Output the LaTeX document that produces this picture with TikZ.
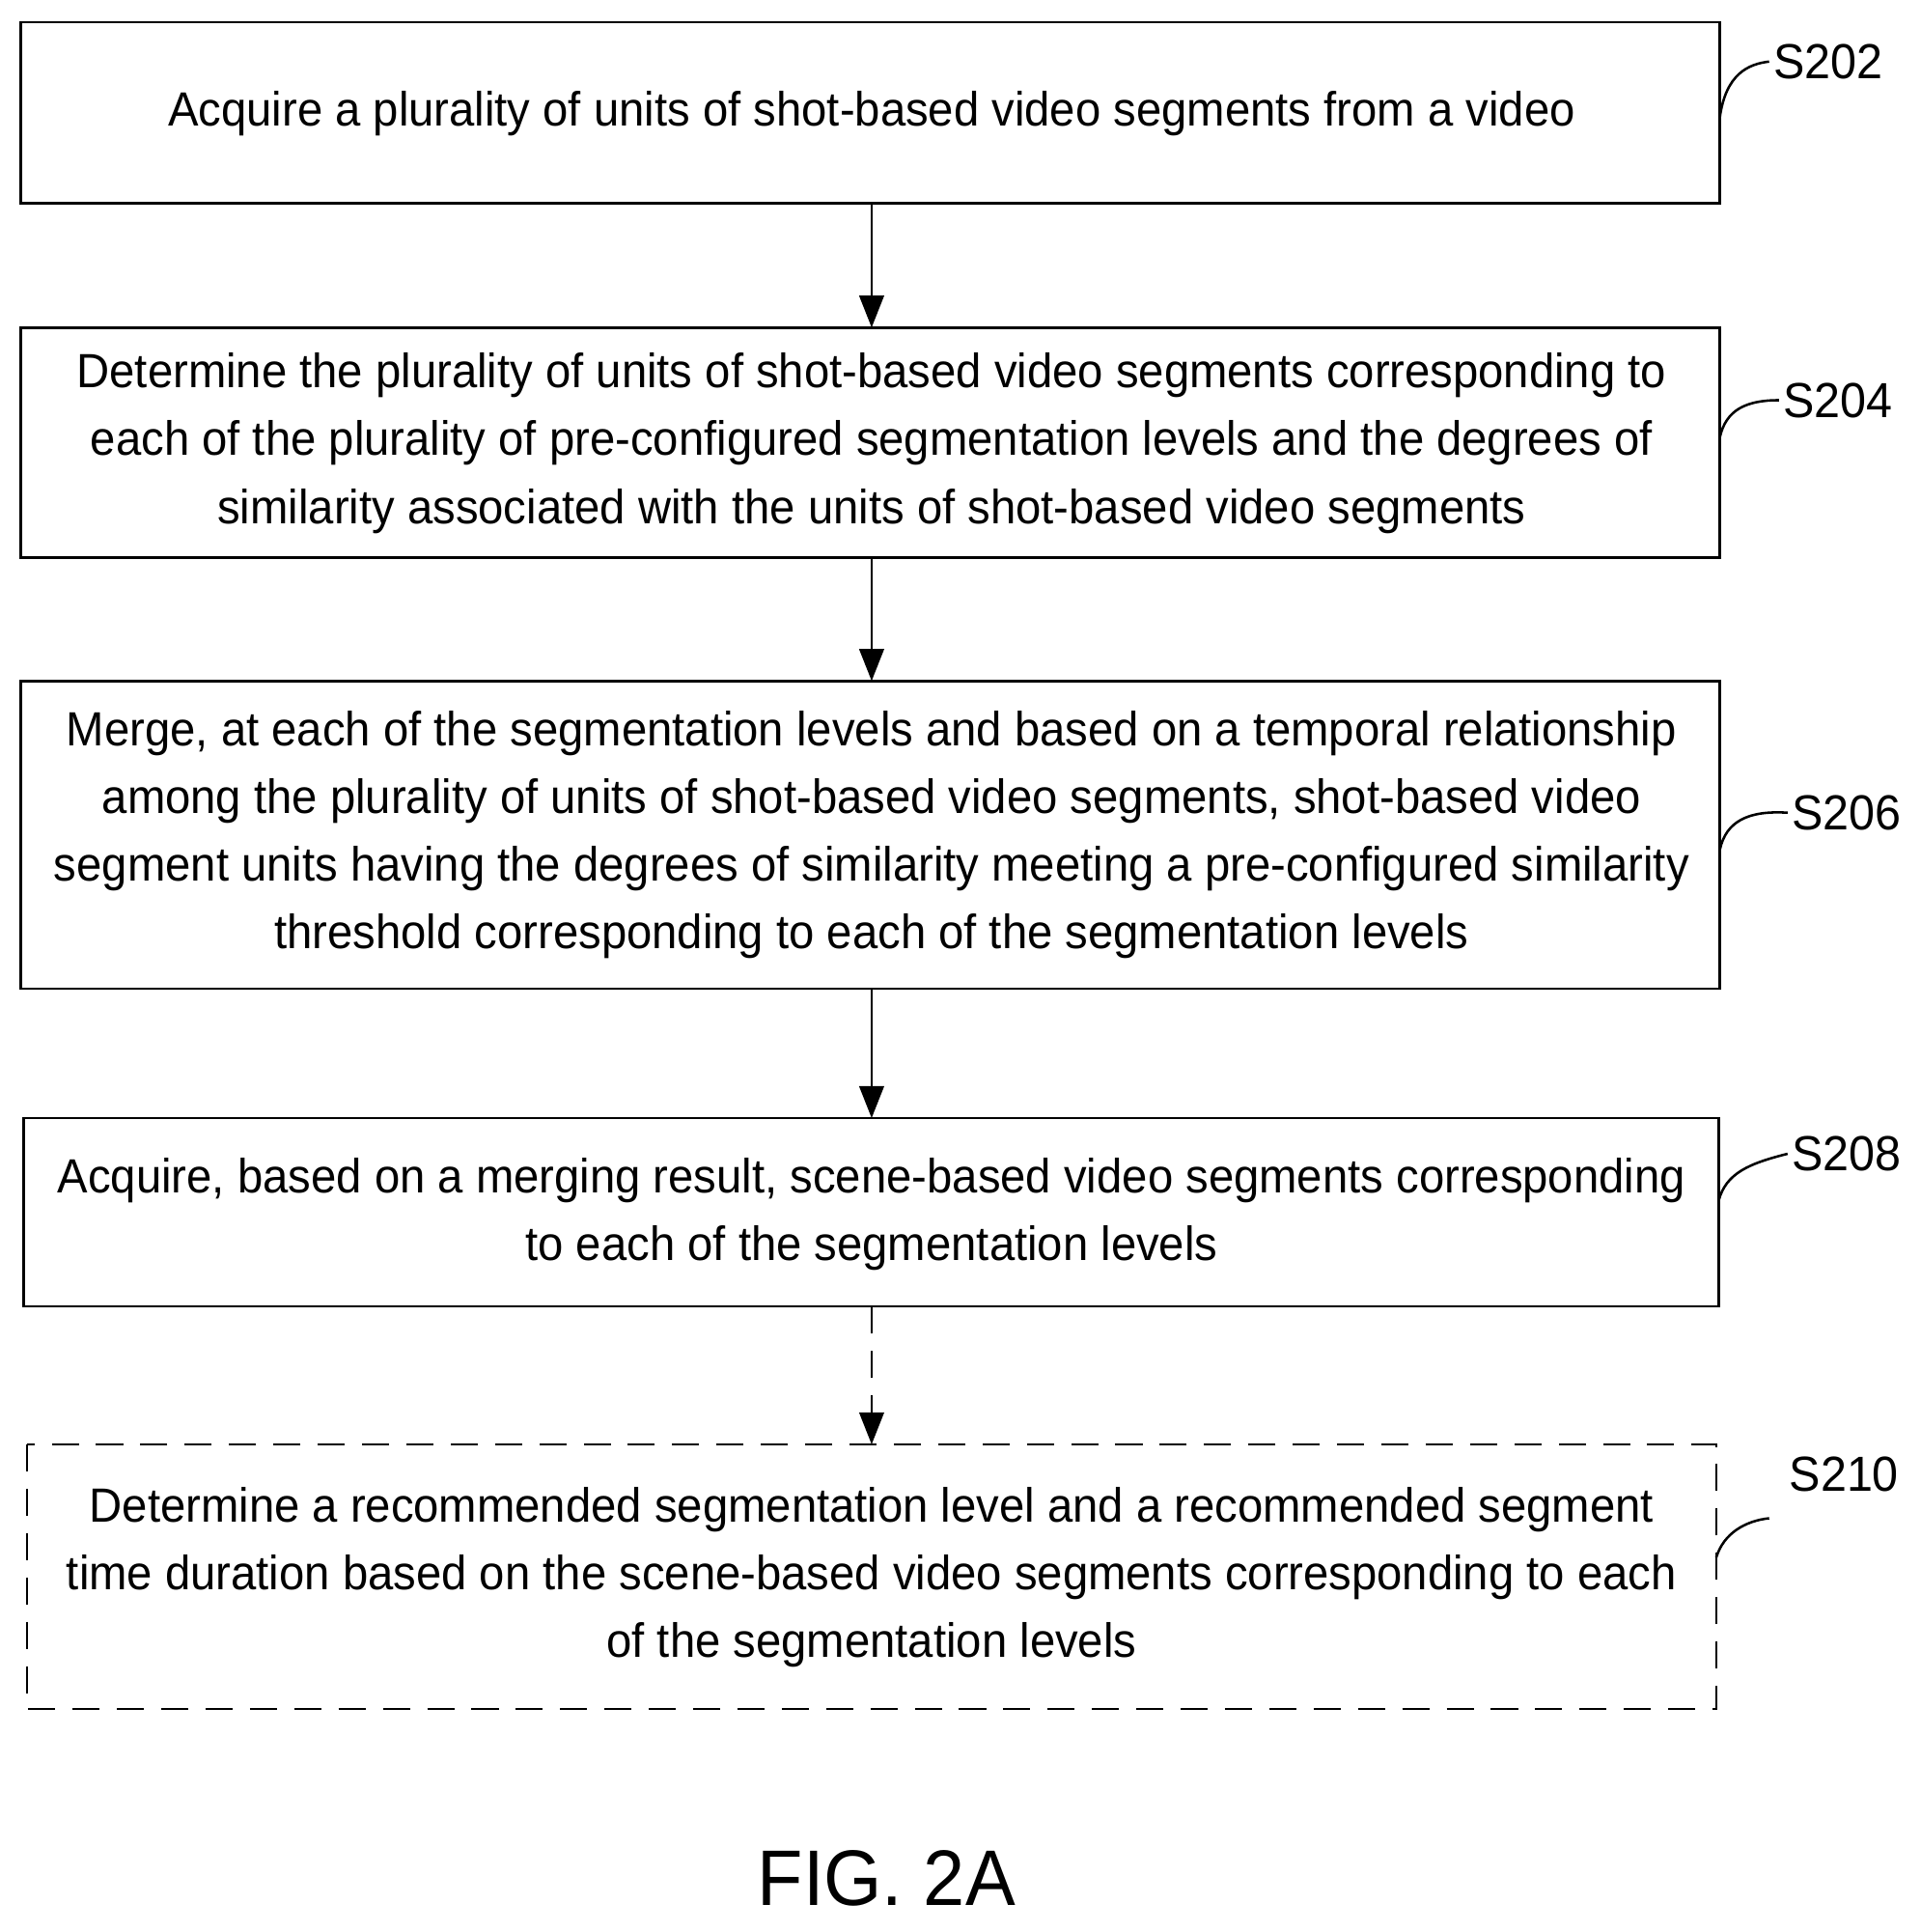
\documentclass[tikz,border=0pt]{standalone}
\usepackage{fontspec}
\setmainfont{Liberation Sans}[FakeStretch=0.95]
\usetikzlibrary{arrows.meta}
\begin{document}
\begin{tikzpicture}[x=1pt,y=-1pt,
  box/.style={draw,line width=2pt},
  txt/.style={align=center,font=\fontsize{39}{55}\selectfont},
  lab/.style={font=\fontsize{40}{46}\selectfont,anchor=west},
  arr/.style={line width=2pt,-{Triangle[length=26pt,width=20pt]}},
  lead/.style={line width=2pt}]
\useasboundingbox (0,0) rectangle (1560,1569);
\draw[box] (17,18) rectangle (1397,165);
\draw[box] (17,266) rectangle (1397,453);
\draw[box] (17,553) rectangle (1397,803);
\draw[box] (19,908) rectangle (1396,1061);
\draw[box,dash pattern=on 22pt off 14pt] (22,1173) rectangle (1394,1388);
\node[txt] (t1) at (708,92) {Acquire a plurality of units of shot-based video segments from a video};
\node[txt] (t2) at (708,360) {Determine the plurality of units of shot-based video segments corresponding to\\each of the plurality of pre-configured segmentation levels and the degrees of\\similarity associated with the units of shot-based video segments};
\node[txt] (t3) at (708,678) {Merge, at each of the segmentation levels and based on a temporal relationship\\among the plurality of units of shot-based video segments, shot-based video\\segment units having the degrees of similarity meeting a pre-configured similarity\\threshold corresponding to each of the segmentation levels};
\node[txt] (t4) at (708,986) {Acquire, based on a merging result, scene-based video segments corresponding\\to each of the segmentation levels};
\node[txt] (t5) at (708,1281) {Determine a recommended segmentation level and a recommended segment\\time duration based on the scene-based video segments corresponding to each\\of the segmentation levels};
\coordinate (a1) at (708,165); \coordinate (b1) at (708,266);
\coordinate (a2) at (708,453); \coordinate (b2) at (708,553);
\coordinate (a3) at (708,803); \coordinate (b3) at (708,908);
\coordinate (a4) at (708,1061); \coordinate (b4) at (708,1173);
\draw[arr] (a1) -- (b1);
\draw[arr] (a2) -- (b2);
\draw[arr] (a3) -- (b3);
\draw[arr,dash pattern=on 22pt off 14pt] (a4) -- (b4);
\node[lab] (l1) at (1437,50) {S202};
\node[lab] (l2) at (1445,325) {S204};
\node[lab] (l3) at (1452,660) {S206};
\node[lab] (l4) at (1452,937) {S208};
\node[lab] (l5) at (1450,1197) {S210};
\draw[lead] (1397,95) .. controls (1402,60) and (1420,52) .. (l1.west);
\draw[lead] (1397,355) .. controls (1402,333) and (1418,325) .. (l2.west);
\draw[lead] (1397,690) .. controls (1402,667) and (1420,658) .. (l3.west);
\draw[lead] (1396,975) .. controls (1402,953) and (1420,945) .. (l4.west);
\draw[lead] (1394,1265) .. controls (1400,1245) and (1418,1235) .. (1437,1233);
\node[font=\fontsize{64}{70}\selectfont] (fig) at (720,1525) {FIG. 2A};
\end{tikzpicture}
\end{document}
